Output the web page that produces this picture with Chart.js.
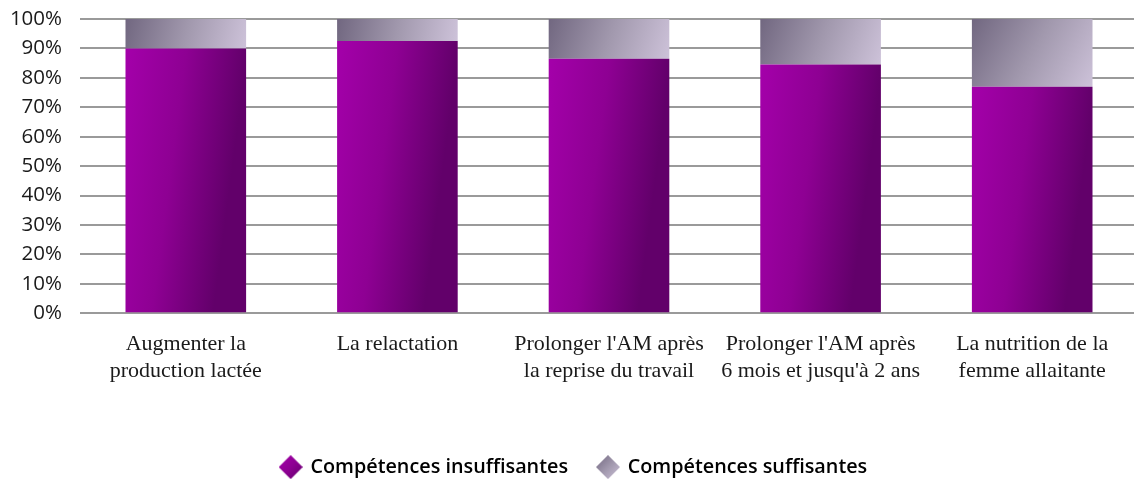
<!DOCTYPE html>
<html>
<head>
<meta charset="utf-8">
<script src="https://cdn.jsdelivr.net/npm/chart.js"></script>
<style>
  html, body { margin: 0; padding: 0; background: #fff; overflow: hidden; }
  #wrap { width: 1140px; height: 487px; }
</style>
</head>
<body>
<div id="wrap"><canvas id="chart"></canvas></div>
<script>
// Thèmes de formation et part des compétences (%)
const themes = [
  ['Augmenter la', 'production lactée'],
  ['La relactation'],
  ["Prolonger l'AM après", 'la reprise du travail'],
  ["Prolonger l'AM après", "6 mois et jusqu'à 2 ans"],
  ['La nutrition de la', 'femme allaitante']
];
const insuffisantes = [90, 92.5, 86.5, 84.5, 77];
const suffisantes = [10, 7.5, 13.5, 15.5, 23];
const yTicks = [0, 10, 20, 30, 40, 50, 60, 70, 80, 90, 100];

const BAR_PCT = 0.57;

function purpleStops(g) {
  g.addColorStop(0, '#a400aa');
  g.addColorStop(0.5, '#8e0093');
  g.addColorStop(1, '#62006a');
}
function greyStops(g) {
  g.addColorStop(0, '#716780');
  g.addColorStop(0.5, '#a198ad');
  g.addColorStop(1, '#cdc2d9');
}

// gradient fill for each stacked segment, computed from the scales
function segmentFill(ctx, dsIndex) {
  const flat = dsIndex === 0 ? '#8a008f' : '#a399ae';
  const chart = ctx.chart;
  const xs = chart.scales.x, ys = chart.scales.y;
  const i = ctx.dataIndex;
  if (!xs || !ys || i === undefined) return flat;
  const cx = xs.getPixelForValue(i);
  const half = xs.width / themes.length * BAR_PCT / 2;
  const lo = dsIndex === 0 ? 0 : insuffisantes[i];
  const hi = dsIndex === 0 ? insuffisantes[i] : insuffisantes[i] + suffisantes[i];
  const top = ys.getPixelForValue(hi), bot = ys.getPixelForValue(lo);
  if (![cx, half, top, bot].every(isFinite)) return flat;
  let g;
  if (dsIndex === 0) {
    g = chart.ctx.createLinearGradient(cx - half, top, cx + half, top + 16);
    purpleStops(g);
  } else {
    g = chart.ctx.createLinearGradient(cx - half, top, cx + half, bot);
    greyStops(g);
  }
  return g;
}

// small diamond markers for the legend
function diamond(stops) {
  const c = document.createElement('canvas');
  c.width = 24; c.height = 24;
  const x = c.getContext('2d');
  const g = x.createLinearGradient(0, 0, 24, 24);
  stops(g);
  x.fillStyle = g;
  x.beginPath();
  x.moveTo(12, 0); x.lineTo(24, 12); x.lineTo(12, 24); x.lineTo(0, 12);
  x.closePath();
  x.fill();
  return c;
}
const markers = [diamond(purpleStops), diamond(greyStops)];

new Chart(document.getElementById('chart'), {
  type: 'bar',
  data: {
    labels: themes,
    datasets: [
      {
        label: 'Compétences insuffisantes',
        data: insuffisantes,
        backgroundColor: ctx => segmentFill(ctx, 0),
        borderWidth: 0,
        barPercentage: BAR_PCT,
        categoryPercentage: 1
      },
      {
        label: 'Compétences suffisantes',
        data: suffisantes,
        backgroundColor: ctx => segmentFill(ctx, 1),
        borderWidth: 0,
        barPercentage: BAR_PCT,
        categoryPercentage: 1
      }
    ]
  },
  options: {
    responsive: true,
    maintainAspectRatio: false,
    animation: false,
    layout: { padding: { top: 19, left: 10, right: 2, bottom: 0 } },
    scales: {
      x: {
        stacked: true,
        grid: { display: false },
        border: { display: false },
        ticks: {
          color: '#1a1a1a',
          font: { family: '"Liberation Serif", "Times New Roman", serif', size: 22, lineHeight: 1.22 },
          padding: 10,
          maxRotation: 0
        },
        afterFit: axis => {
          axis.height = 114;
          axis.paddingLeft = 0;
          axis.paddingRight = 0;
        }
      },
      y: {
        stacked: true,
        min: 0,
        max: 100,
        afterBuildTicks: axis => { axis.ticks = yTicks.map(v => ({ value: v })); },
        grid: { color: '#9a9a9a', lineWidth: 2, drawTicks: false },
        border: { display: false },
        ticks: {
          color: '#1a1a1a',
          font: { family: '"Open Sans", sans-serif', size: 20.5 },
          padding: 18,
          callback: v => v + '%'
        },
        afterFit: axis => {
          axis.width = 70;
          axis.paddingTop = 0;
          axis.paddingBottom = 0;
        }
      }
    },
    plugins: {
      tooltip: { enabled: false },
      legend: {
        position: 'bottom',
        labels: {
          usePointStyle: true,
          boxWidth: 24,
          boxHeight: 24,
          padding: 30,
          color: '#1a1a1a',
          font: { family: '"Open Sans", sans-serif', size: 19.8, weight: '600' },
          generateLabels: chart => chart.data.datasets.map((ds, i) => ({
            text: ds.label,
            fillStyle: i === 0 ? '#8a008f' : '#a399ae',
            strokeStyle: 'transparent',
            lineWidth: 0,
            pointStyle: markers[i],
            datasetIndex: i
          }))
        }
      }
    }
  }
});
</script>
</body>
</html>
